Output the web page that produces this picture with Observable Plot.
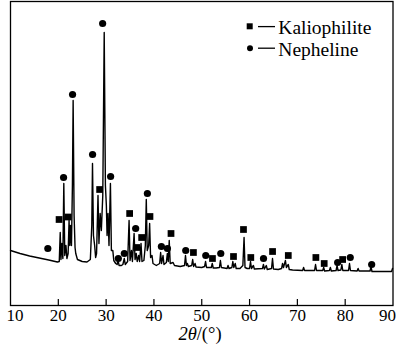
<!DOCTYPE html>
<html><head><meta charset="utf-8">
<script src="https://cdn.jsdelivr.net/npm/d3@7"></script>
<script src="https://cdn.jsdelivr.net/npm/@observablehq/plot@0.6"></script>
<style>
html,body{margin:0;padding:0;background:#fff;}
#chart{width:400px;height:355px;overflow:hidden;}
</style></head><body><div id="chart"></div>
<script>
// XRD profile: [2θ (°), intensity (a.u.)]
const profile = [
[10,55],[12,52],[14,49.5],[16,47.5],[18,45.5],[19.8,43.5],
[20.2,44],[20.4,73],[20.55,46],[20.75,62],[20.95,47],[21.15,122],[21.35,50],[21.6,60],[21.8,47],
[22.05,52],[22.25,85],[22.4,60],[22.55,80],[22.75,60],[22.95,120],[23.1,205],[23.3,90],[23.5,58],
[23.65,52],[24,46],[25,44],[26,43.5],[26.7,46],[27.0,80],[27.15,142],[27.35,70],[27.6,60],[27.8,48],
[28.0,52],[28.3,110],[28.5,62],[28.75,92],[29.0,75],[29.3,110],[29.6,273],[29.85,120],[30.05,100],
[30.2,70],[30.4,92],[30.6,60],[30.9,122],[31.1,55],[31.4,55],[31.6,45],[32.0,42],[32.3,41],
[32.5,46],[32.7,40],[33.2,40],[33.5,41],[33.8,47],[34.0,41],[34.5,44],[34.8,85],[35.0,45],
[35.3,55],[35.5,44],[35.85,72],[36.05,46],[36.3,52],[36.5,44],[36.8,50],[37.0,44],[37.3,62],
[37.5,44],[37.9,45],[38.2,60],[38.4,106],[38.6,55],[38.9,60],[39.1,82],[39.3,48],[39.6,50],
[39.8,42],[40.5,40],[41.2,42],[41.4,53],[41.6,42],[41.9,50],[42.1,41],[42.6,43],[42.8,52],
[43.0,44],[43.2,65],[43.4,42],[44.0,43],[44.3,40],[45.5,39],[46.4,40],[46.6,50],[46.8,40],
[47.0,42],[47.2,39],[47.9,40],[48.1,46],[48.3,39],[48.6,42],[48.8,38.5],[50,38],[50.6,39],
[50.8,44],[51.0,38],[52.0,38],[52.2,42],[52.4,37.5],[53.0,37.5],[53.7,38],[53.9,45],[54.1,38],
[55.3,37],[55.5,40],[55.7,37],[56.3,38],[56.5,44],[56.7,38],[57.0,42],[57.2,37],[58.0,37],
[58.6,40],[58.85,68],[59.05,38],[59.5,37],[60.0,37],[60.2,44],[60.4,37],[60.8,40],[61.0,36.5],
[62.7,37],[62.9,41],[63.1,36.5],[63.5,40],[63.7,36],[64.6,37],[64.8,47],[65.0,36.5],[66.0,36],
[66.7,37],[66.9,42],[67.1,38],[67.5,45],[67.7,38],[68.1,41],[68.3,36],[69,35.5],[71.1,35],
[71.3,38],[71.5,35],[73.6,35],[73.8,41],[74.0,35],[75.3,35],[75.5,38],[75.7,34.5],[76.7,35],
[76.9,38],[77.1,34.5],[78.1,35],[78.3,40],[78.5,35],[79.1,35.5],[79.3,41],[79.5,35],[80.7,35],
[80.9,42],[81.1,35],[82.5,34.5],[82.7,37],[82.9,34.5],[85.2,34.5],[85.4,39],[85.6,34],[88,34],
[89.7,34],[89.9,37]
];

// Kaliophilite markers (squares)
const kalDeg = [20.16,22.08,28.64,34.92,36.39,37.43,39.17,43.57,48.26,52.24,56.64,58.73,60.26,64.81,68.1,73.87,75.61,79.46];
const kalInt = [86,88.5,116,92,58,68,89,72,53,47,49,76,48,54,50,48,42,46];

// Nepheline markers (circles)
const nepDeg = [17.81,21.10,22.98,27.17,29.27,30.94,32.55,33.81,36.18,38.63,41.56,42.82,46.65,50.84,53.98,62.92,78.42,81.06,85.54];
const nepInt = [57,128,211,151,282,129,47,52,77,112,59,57,55,50,52,47,43,48,41];

const xTicks = [10,20,30,40,50,60,70,80,90];
const legendLabels = ["Kaliophilite","Nepheline"];
const xLabelParts = ["2θ", "/(°)"];

const kal = kalDeg.map((d,i)=>({x:d,y:kalInt[i]}));
const nep = nepDeg.map((d,i)=>({x:d,y:nepInt[i]}));
const font = "'Liberation Serif','Times New Roman',serif";

const chart = Plot.plot({
  width:400, height:355,
  marginTop:1, marginLeft:10, marginRight:7.5, marginBottom:50,
  style:{fontFamily:font, fontSize:"17px", color:"#000", background:"#fff", overflow:"visible"},
  x:{domain:[10,90]},
  y:{domain:[0,304], axis:null},
  marks:[
    Plot.line(profile,{x:d=>d[0], y:d=>d[1], stroke:"#000", strokeWidth:1.4}),
    Plot.dot(kal,{x:"x", y:"y", symbol:"square", fill:"#000", stroke:"none", r:3.8}),
    Plot.dot(nep,{x:"x", y:"y", symbol:"circle", fill:"#000", stroke:"none", r:3.6}),
    Plot.ruleX(xTicks.slice(1,-1),{y1:0, y2:6, stroke:"#000", strokeWidth:1.2}),
    Plot.frame({stroke:"#000", strokeWidth:1.3}),
    Plot.axisX(xTicks.slice(1,-1),{tickSize:0, tickPadding:3, label:null, fontSize:17, tickFormat:d=>String(d)}),
    Plot.axisX([xTicks[0]],{tickSize:0, tickPadding:3, label:null, fontSize:17, dx:4.5, tickFormat:d=>String(d)}),
    Plot.axisX([xTicks[xTicks.length-1]],{tickSize:0, tickPadding:3, label:null, fontSize:17, dx:-5.5, tickFormat:d=>String(d)})
  ]
});
document.getElementById("chart").appendChild(chart);

const svg = d3.select(chart);
// x-axis title
const xl = svg.append("text").attr("x",200).attr("y",340).attr("text-anchor","middle")
  .attr("font-family",font).attr("font-size",18.5).attr("fill","#000");
xl.append("tspan").attr("font-style","italic").text(xLabelParts[0]);
xl.append("tspan").text(xLabelParts[1]);

// legend
const lg = svg.append("g").attr("text-anchor","start");
lg.append("rect").attr("x",246.7).attr("y",23.3).attr("width",6).attr("height",6).attr("fill","#000");
lg.append("circle").attr("cx",250).attr("cy",48.3).attr("r",3).attr("fill","#000");
[26.6,48.2].forEach(y=>lg.append("line").attr("x1",258).attr("x2",275).attr("y1",y).attr("y2",y).attr("stroke","#000").attr("stroke-width",1.3));
lg.append("text").attr("x",278.3).attr("y",34.3).attr("text-anchor","start").attr("font-family",font).attr("font-size",19.5).attr("fill","#000").text(legendLabels[0]);
lg.append("text").attr("x",278.3).attr("y",56).attr("text-anchor","start").attr("font-family",font).attr("font-size",19.5).attr("fill","#000").text(legendLabels[1]);
</script></body></html>
